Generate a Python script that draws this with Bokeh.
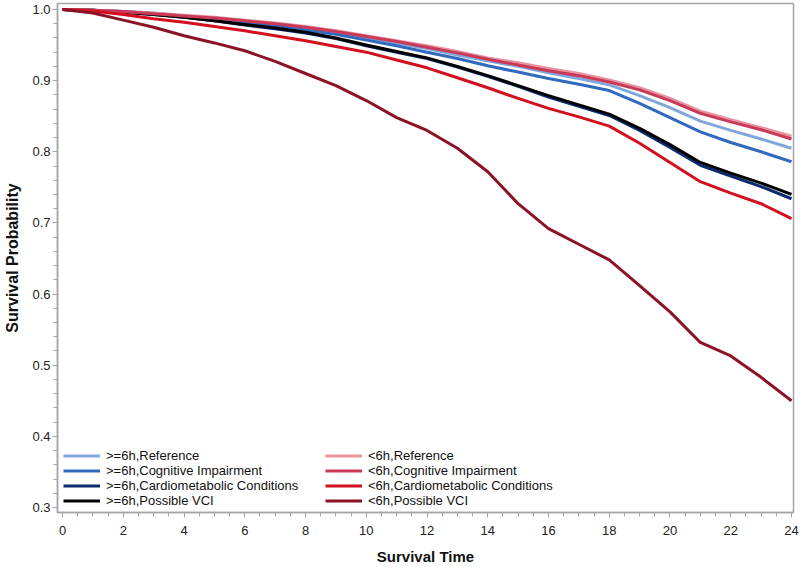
from bokeh.plotting import figure
from bokeh.models import Legend, LegendItem, FixedTicker, PrintfTickFormatter, Range1d
from bokeh.embed import file_html
from bokeh.resources import INLINE

# Survival time (months)
time = list(range(0, 25))

# Survival probability per group
ge6_reference = [1.0, 0.999, 0.997, 0.995, 0.991, 0.988, 0.984, 0.979, 0.974, 0.968, 0.961, 0.953, 0.945,
                 0.936, 0.928, 0.920, 0.911, 0.903, 0.894, 0.879, 0.862, 0.843, 0.830, 0.818, 0.805]
ge6_cognitive = [1.0, 0.999, 0.997, 0.994, 0.990, 0.986, 0.982, 0.977, 0.971, 0.965, 0.957, 0.949, 0.940,
                 0.931, 0.921, 0.912, 0.903, 0.895, 0.886, 0.868, 0.848, 0.828, 0.813, 0.800, 0.786]
ge6_cardio = [1.0, 0.999, 0.996, 0.993, 0.989, 0.984, 0.978, 0.973, 0.967, 0.959, 0.949, 0.940, 0.931,
              0.919, 0.906, 0.892, 0.877, 0.864, 0.851, 0.830, 0.806, 0.781, 0.766, 0.751, 0.734]
ge6_vci = [1.0, 0.999, 0.996, 0.993, 0.989, 0.984, 0.979, 0.974, 0.968, 0.960, 0.950, 0.941, 0.932,
           0.920, 0.907, 0.893, 0.879, 0.866, 0.853, 0.833, 0.810, 0.785, 0.770, 0.756, 0.740]
lt6_reference = [1.0, 0.999, 0.997, 0.995, 0.992, 0.989, 0.985, 0.981, 0.976, 0.970, 0.963, 0.956, 0.949,
                 0.941, 0.932, 0.925, 0.917, 0.910, 0.901, 0.890, 0.875, 0.857, 0.845, 0.834, 0.822]
lt6_cognitive = [1.0, 0.999, 0.997, 0.994, 0.991, 0.988, 0.984, 0.980, 0.975, 0.969, 0.962, 0.955, 0.947,
                 0.939, 0.930, 0.922, 0.914, 0.907, 0.898, 0.887, 0.872, 0.854, 0.842, 0.831, 0.818]
lt6_cardio = [1.0, 0.998, 0.993, 0.987, 0.982, 0.976, 0.970, 0.963, 0.956, 0.948, 0.940, 0.929, 0.918,
              0.904, 0.890, 0.875, 0.861, 0.849, 0.836, 0.812, 0.785, 0.758, 0.742, 0.727, 0.706]
lt6_vci = [1.0, 0.995, 0.985, 0.975, 0.963, 0.953, 0.942, 0.927, 0.910, 0.893, 0.872, 0.848, 0.830,
           0.805, 0.772, 0.727, 0.692, 0.670, 0.648, 0.612, 0.575, 0.532, 0.513, 0.483, 0.450]

labels_ge6 = [">=6h,Reference", ">=6h,Cognitive Impairment", ">=6h,Cardiometabolic Conditions", ">=6h,Possible VCI"]
labels_lt6 = ["<6h,Reference", "<6h,Cognitive Impairment", "<6h,Cardiometabolic Conditions", "<6h,Possible VCI"]
colors_ge6 = ["#7fa7dc", "#3069bd", "#0c2a72", "#000000"]
colors_lt6 = ["#e8939f", "#c83a58", "#d2101f", "#8c1327"]

x_ticks = list(range(0, 25, 2))
x_minor = [i * 0.5 for i in range(0, 49)]
y_ticks = [0.3, 0.4, 0.5, 0.6, 0.7, 0.8, 0.9, 1.0]
y_minor = [round(0.3 + i * 0.02, 2) for i in range(0, 36)]

FONT = "Liberation Sans"
GREY = "#a6a6a6"

p = figure(width=800, height=567, output_backend="svg", toolbar_location=None,
           x_range=Range1d(-0.165, 24.066), y_range=Range1d(0.2930, 1.0084),
           min_border_left=57, min_border_right=7, min_border_top=3, min_border_bottom=55)

p.xgrid.grid_line_color = None
p.ygrid.grid_line_color = None
p.outline_line_color = GREY
p.outline_line_width = 1.5
p.background_fill_color = "white"

ge6 = [ge6_reference, ge6_cognitive, ge6_cardio, ge6_vci]
lt6 = [lt6_reference, lt6_cognitive, lt6_cardio, lt6_vci]

renderers_ge6 = []
for vals, col in zip(ge6, colors_ge6):
    renderers_ge6.append(p.line(time, vals, line_color=col, line_width=3))
renderers_lt6 = []
for vals, col in zip(lt6, colors_lt6):
    renderers_lt6.append(p.line(time, vals, line_color=col, line_width=3))

for ax in (p.xaxis[0], p.yaxis[0]):
    ax.axis_line_color = GREY
    ax.axis_line_width = 1.5
    ax.major_tick_line_color = GREY
    ax.minor_tick_line_color = GREY
    ax.major_tick_in = 0
    ax.major_tick_out = 5
    ax.minor_tick_in = 0
    ax.minor_tick_out = 4
    ax.major_label_text_font = FONT
    ax.major_label_text_font_size = "13px"
    ax.major_label_text_color = "#222222"
    ax.axis_label_text_font = FONT
    ax.axis_label_text_font_style = "bold"
    ax.axis_label_text_color = "#111111"

p.xaxis[0].ticker = FixedTicker(ticks=x_ticks, minor_ticks=x_minor)
p.xaxis[0].formatter = PrintfTickFormatter(format="%d")
p.xaxis[0].axis_label = "Survival Time"
p.xaxis[0].axis_label_text_font_size = "15px"
p.xaxis[0].major_label_standoff = 8
p.xaxis[0].axis_label_standoff = 10

p.yaxis[0].ticker = FixedTicker(ticks=y_ticks, minor_ticks=y_minor)
p.yaxis[0].formatter = PrintfTickFormatter(format="%.1f")
p.yaxis[0].axis_label = "Survival Probability"
p.yaxis[0].axis_label_text_font_size = "16px"
p.yaxis[0].major_label_standoff = 2
p.yaxis[0].axis_label_standoff = 8


def make_legend(labels, renderers, loc):
    return Legend(items=[LegendItem(label=l, renderers=[r]) for l, r in zip(labels, renderers)],
                  location=loc, orientation="vertical",
                  glyph_width=37, glyph_height=15, label_height=15, spacing=0, padding=2,
                  margin=0, label_standoff=6, border_line_color=None, background_fill_alpha=0,
                  label_text_font=FONT, label_text_font_size="13px", label_text_color="#111111")


p.add_layout(make_legend(labels_ge6, renderers_ge6, (6, 4)))
p.add_layout(make_legend(labels_lt6, renderers_lt6, (268, 4)))

open("out.html", "w").write(file_html(p, INLINE))
